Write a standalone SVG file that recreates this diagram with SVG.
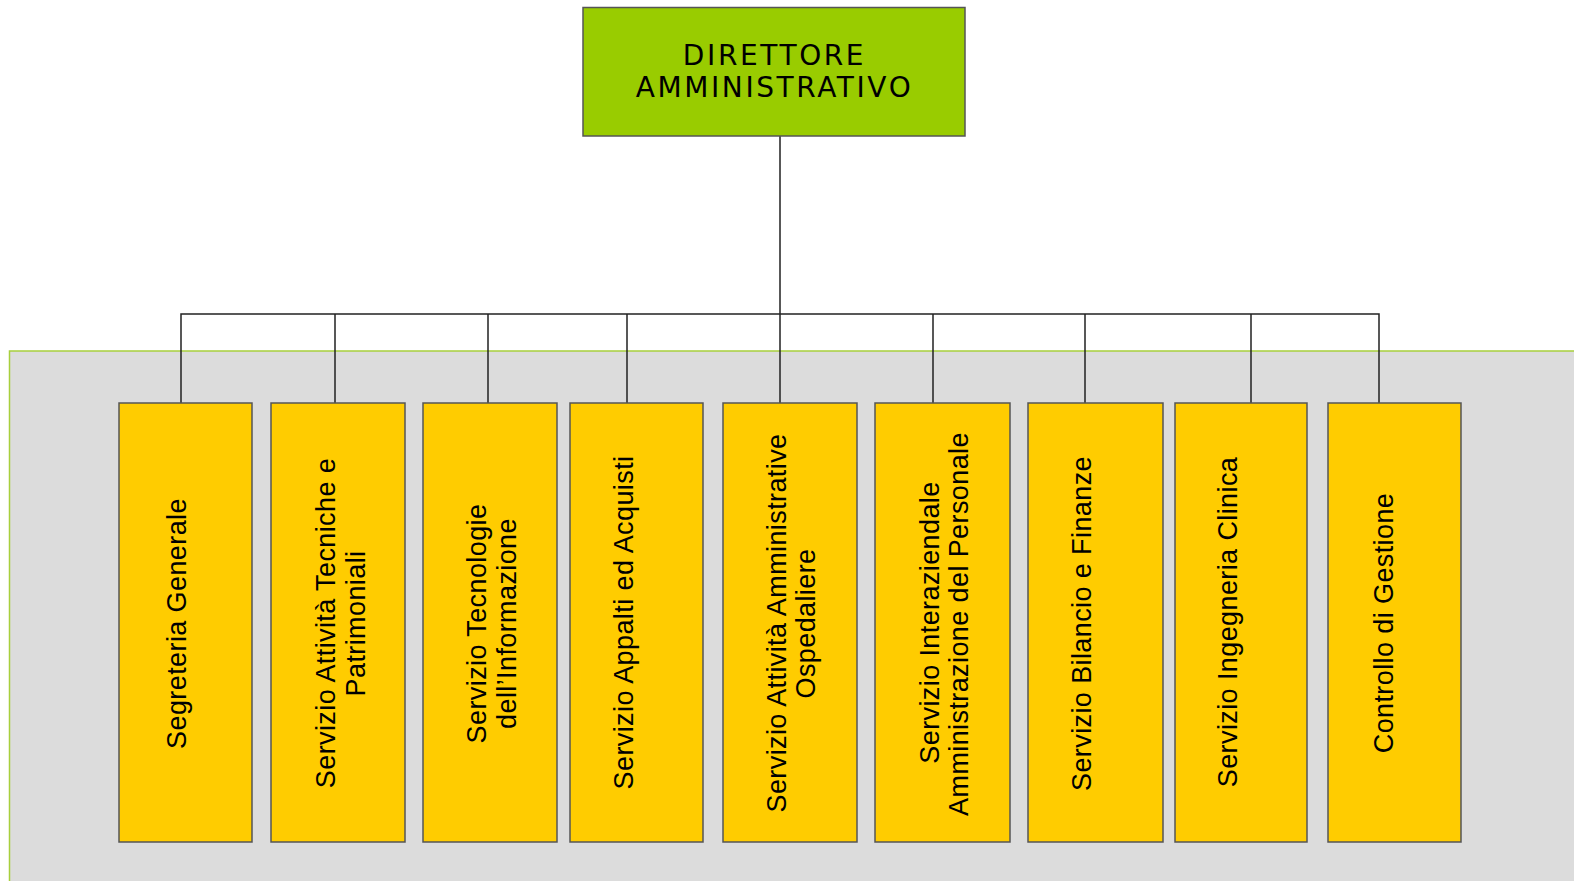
<svg xmlns="http://www.w3.org/2000/svg" width="1574" height="881" viewBox="0 0 1574 881">
<style>
.bg{fill:#dcdcdc;stroke:#a8cf3c;stroke-width:1.5}
.top{fill:#99cc00;stroke:#555;stroke-width:1.5}
.box{fill:#ffcc00;stroke:#555;stroke-width:1.5}
.t{font-family:"Liberation Sans",Arial,sans-serif;font-size:27px;letter-spacing:0.4px;fill:#000;text-anchor:middle}
.tt{font-family:"DejaVu Sans",Verdana,sans-serif;font-size:28px;letter-spacing:2.6px;fill:#000;text-anchor:middle}
.c{fill:none;stroke:#222;stroke-width:1.5}
</style>
<rect width="1574" height="881" fill="#ffffff"/>
<rect class="bg" x="9.5" y="351" width="1570" height="540"/>
<g id="connectors">
<path class="c" d="M780,136V314M181,403V314H1379V403M335,314V403M488,314V403M627,314V403M780,314V403M933,314V403M1085,314V403M1251,314V403"/>
</g>
<g id="direttore">
<rect class="top" x="583" y="7.5" width="382" height="128.5"/>
<text class="tt" x="774.5" y="65">DIRETTORE</text>
<text class="tt" x="774.5" y="97">AMMINISTRATIVO</text>
</g>
<g id="segreteria">
<rect class="box" x="119" y="403" width="133" height="439"/>
<text class="t" transform="translate(186,623.5) rotate(-90)">Segreteria Generale</text>
</g>
<g id="tecniche">
<rect class="box" x="271" y="403" width="134" height="439"/>
<text class="t" transform="translate(335,623) rotate(-90)">Servizio Attività Tecniche e</text>
<text class="t" transform="translate(365,623.5) rotate(-90)">Patrimoniali</text>
</g>
<g id="tecnologie">
<rect class="box" x="423" y="403" width="134" height="439"/>
<text class="t" transform="translate(486,623.5) rotate(-90)">Servizio Tecnologie</text>
<text class="t" transform="translate(516,623.5) rotate(-90)">dell’Informazione</text>
</g>
<g id="appalti">
<rect class="box" x="570" y="403" width="133" height="439"/>
<text class="t" transform="translate(633,622.5) rotate(-90)">Servizio Appalti ed Acquisti</text>
</g>
<g id="ospedaliere">
<rect class="box" x="723" y="403" width="134" height="439"/>
<text class="t" transform="translate(786,623) rotate(-90)">Servizio Attività Amministrative</text>
<text class="t" transform="translate(815,623.5) rotate(-90)">Ospedaliere</text>
</g>
<g id="personale">
<rect class="box" x="875" y="403" width="135" height="439"/>
<text class="t" transform="translate(939,622.5) rotate(-90)">Servizio Interaziendale</text>
<text class="t" transform="translate(968,624) rotate(-90)">Amministrazione del Personale</text>
</g>
<g id="bilancio">
<rect class="box" x="1028" y="403" width="135" height="439"/>
<text class="t" transform="translate(1091,623.5) rotate(-90)">Servizio Bilancio e Finanze</text>
</g>
<g id="ingegneria">
<rect class="box" x="1175" y="403" width="132" height="439"/>
<text class="t" transform="translate(1237,622) rotate(-90)">Servizio Ingegneria Clinica</text>
</g>
<g id="controllo">
<rect class="box" x="1328" y="403" width="133" height="439"/>
<text class="t" transform="translate(1393,623) rotate(-90)">Controllo di Gestione</text>
</g>
</svg>
